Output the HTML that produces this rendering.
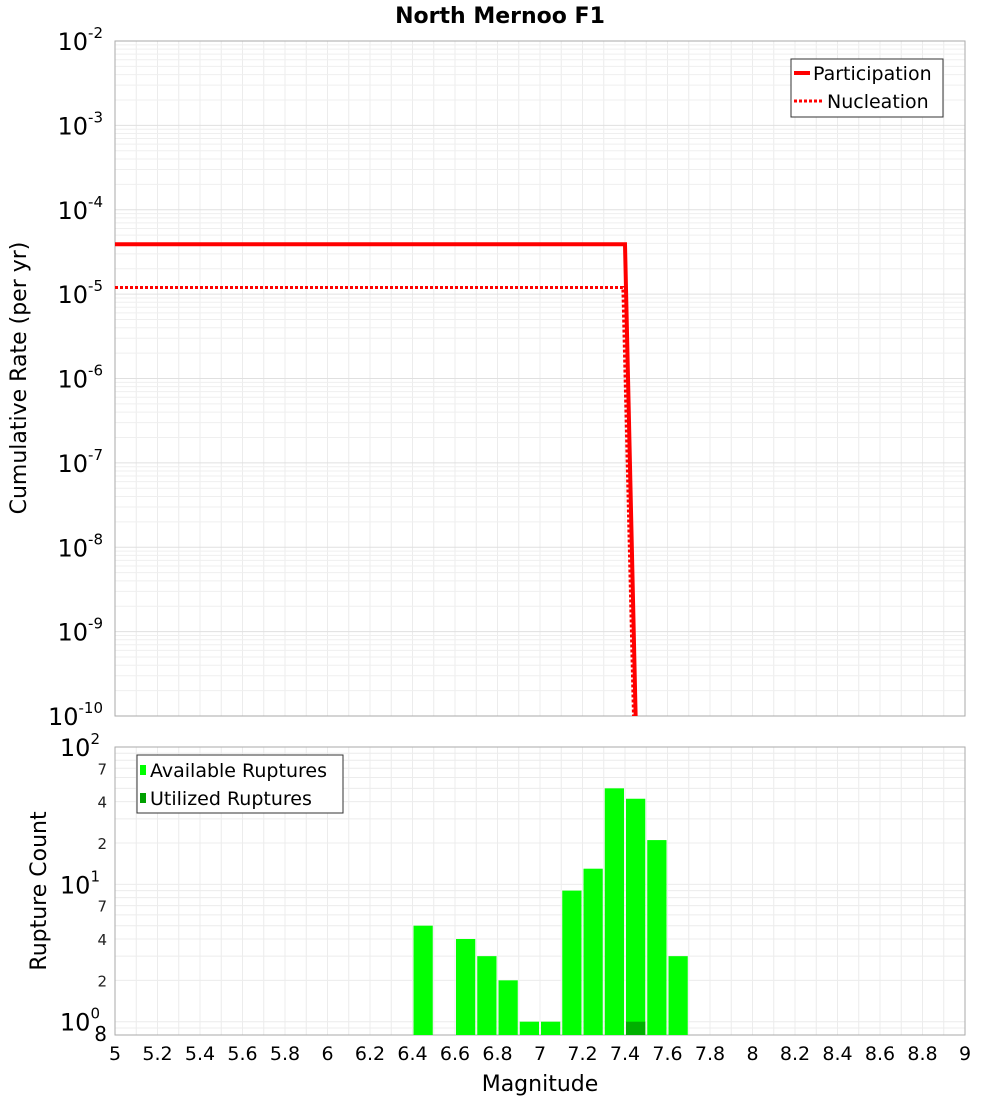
<!DOCTYPE html>
<html><head><meta charset="utf-8"><style>
body{margin:0;background:#fff;font-family:"Liberation Sans","DejaVu Sans",sans-serif}
svg text{font-family:"DejaVu Sans","Liberation Sans",sans-serif}
</style></head><body>
<svg id="c" width="1000" height="1100" xmlns="http://www.w3.org/2000/svg"></svg>
<script>
const partMags=[5,7.4,7.45];
const partRates=[3.9e-5,3.9e-5,1e-10];
const nuclMags=[5,7.39,7.44];
const nuclRates=[1.2e-5,1.2e-5,1e-10];
const binCenters=[6.45,6.65,6.75,6.85,6.95,7.05,7.15,7.25,7.35,7.45,7.55,7.65];
const availCounts=[5,4,3,2,1,1,9,13,50,42,21,3];
const usedCenters=[7.45];
const usedCounts=[1];
const xTicks=[5,5.2,5.4,5.6,5.8,6,6.2,6.4,6.6,6.8,7,7.2,7.4,7.6,7.8,8,8.2,8.4,8.6,8.8,9];
const topExps=[-2,-3,-4,-5,-6,-7,-8,-9,-10];
const botMinor=[2,4,7,20,40,70];

const svg=document.getElementById('c');const NS='http://www.w3.org/2000/svg';
function el(t,a,p){const e=document.createElementNS(NS,t);for(const k in a)e.setAttribute(k,a[k]);(p||svg).appendChild(e);return e;}
const L=115,R=965,T1=41,B1=716,T2=747,B2=1035;
const X=m=>L+(m-5)/4*(R-L);
const Y1=v=>T1+(-2-Math.log10(v))/8*(B1-T1);
const lmin=Math.log10(0.8),lmax=2;
const Y2=v=>B2-(Math.log10(v)-lmin)/(lmax-lmin)*(B2-T2);

// grids
for(let m=5;m<=9.001;m+=0.1){
 let g=el('line',{x1:X(m),x2:X(m),y1:T1,y2:B1,stroke:'#ececec','stroke-width':1});
 
 let g2=el('line',{x1:X(m),x2:X(m),y1:T2,y2:B2,stroke:'#ececec','stroke-width':1});
 
}
for(let e=-10;e<-2;e++)for(let k=1;k<10;k++){
 const v=k*Math.pow(10,e);
 let g=el('line',{x1:L,x2:R,y1:Y1(v),y2:Y1(v),stroke:k==1?'#e0e0e0':'#efefef','stroke-width':1});
 
}
for(let e=-1;e<2;e++)for(let k=1;k<10;k++){
 const v=k*Math.pow(10,e);if(v<0.8)continue;
 let g=el('line',{x1:L,x2:R,y1:Y2(v),y2:Y2(v),stroke:'#ececec','stroke-width':1});
 
}
// frames
let f1=el('rect',{x:L,y:T1,width:R-L,height:B1-T1,fill:'none',stroke:'#aaa'});

let f2=el('rect',{x:L,y:T2,width:R-L,height:B2-T2,fill:'none',stroke:'#aaa'});


// bars
const bw=(X(5.1)-X(5))-2;
binCenters.forEach((m,i)=>{
 let b=el('rect',{x:X(m)-bw/2,y:Y2(availCounts[i]),width:bw,height:B2-Y2(availCounts[i]),fill:'#00ff00'});
 
});
usedCenters.forEach((m,i)=>{
 let b=el('rect',{x:X(m)-bw/2,y:Y2(usedCounts[i]),width:bw,height:B2-Y2(usedCounts[i]),fill:'#00b000'});
 
});

// lines
let pp=partMags.map((m,i)=>X(m)+','+Y1(partRates[i])).join(' ');
let pl=el('polyline',{points:pp,fill:'none',stroke:'#f00','stroke-width':4});

let np=nuclMags.map((m,i)=>X(m)+','+Y1(nuclRates[i])).join(' ');
let nl=el('polyline',{points:np,fill:'none',stroke:'#f00','stroke-width':3,'stroke-dasharray':'3,2'});


// top y labels
topExps.forEach(e=>{
 let t=el('text',{x:103,y:Y1(Math.pow(10,e))+9,'text-anchor':'end','font-size':24,fill:'#000'});
 
 t.textContent='10';
 let s=el('tspan',{dy:-12,'font-size':15},t);s.textContent=String(e);
});
// bottom y labels
[[100,'2'],[10,'1'],[1,'0']].forEach(([v,e])=>{
 let t=el('text',{x:100,y:Y2(v)+9,'text-anchor':'end','font-size':24,fill:'#000'});
 
 t.textContent='10';
 let s=el('tspan',{dy:-12,'font-size':15},t);s.textContent=e;
});
botMinor.forEach(v=>{
 let t=el('text',{x:107,y:Y2(v)+6,'text-anchor':'end','font-size':15,fill:'#222'});
 
 t.textContent=String(v).charAt(0);
});
let t8=el('text',{x:107,y:1041,'text-anchor':'end','font-size':20,fill:'#000'});
t8.textContent='8';

xTicks.forEach(m=>{
 let t=el('text',{x:X(m),y:1060,'text-anchor':'middle','font-size':19,fill:'#000'});
 
 t.textContent=String(m);
});
let tt=el('text',{x:500,y:23,'text-anchor':'middle','font-size':22,'font-weight':'bold'});
tt.textContent='North Mernoo F1';
let xt=el('text',{x:540,y:1091,'text-anchor':'middle','font-size':22});
xt.textContent='Magnitude';
let y1=el('text',{x:0,y:0,'text-anchor':'middle','font-size':22,transform:'translate(26,378) rotate(-90)'});
y1.textContent='Cumulative Rate (per yr)';
let y2=el('text',{x:0,y:0,'text-anchor':'middle','font-size':22,transform:'translate(46,891) rotate(-90)'});
y2.textContent='Rupture Count';

// legend top
let lg=el('g',{});
el('rect',{x:791,y:59,width:152,height:58,fill:'#fff',stroke:'#333'},lg);
el('line',{x1:794,x2:810,y1:73,y2:73,stroke:'#f00','stroke-width':4},lg);
let l1=el('text',{x:813,y:80,'font-size':19},lg);l1.textContent='Participation';
el('line',{x1:794,x2:822,y1:101,y2:101,stroke:'#f00','stroke-width':3,'stroke-dasharray':'3,2'},lg);
let l2=el('text',{x:827,y:108,'font-size':19},lg);l2.textContent='Nucleation';
// legend bottom
let lb=el('g',{});
el('rect',{x:137,y:755,width:206,height:58,fill:'#fff',stroke:'#333'},lb);
el('rect',{x:140,y:765,width:6,height:10,fill:'#00ff00'},lb);
let l3=el('text',{x:150,y:777,'font-size':19},lb);l3.textContent='Available Ruptures';
el('rect',{x:140,y:793,width:6,height:10,fill:'#00a000'},lb);
let l4=el('text',{x:150,y:805,'font-size':19},lb);l4.textContent='Utilized Ruptures';
</script>
</body></html>
